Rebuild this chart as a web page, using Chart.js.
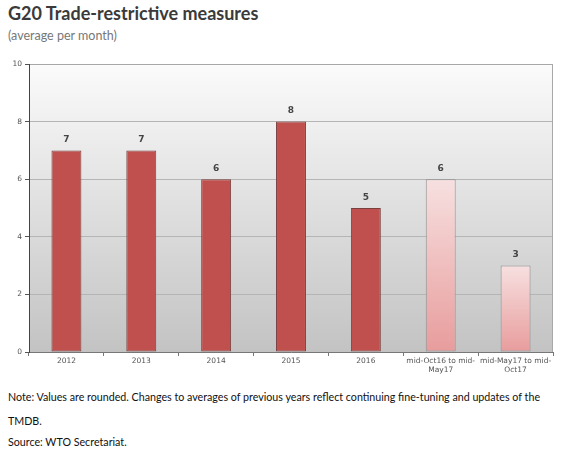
<!DOCTYPE html>
<html>
<head>
<meta charset="utf-8">
<script src="https://cdn.jsdelivr.net/npm/chart.js@4"></script>
<style>
  html, body { margin: 0; padding: 0; background: #fff; width: 568px; height: 450px; overflow: hidden; }
  #title { position: absolute; left: 8px; top: 2px; font-family: Lato, "Open Sans", sans-serif; font-size: 18px; font-weight: 700; color: #3a3a3a; white-space: nowrap; }
  #subtitle { position: absolute; left: 8px; top: 28px; font-family: Lato, "Open Sans", sans-serif; font-size: 12.5px; font-weight: 400; color: #777; }
  #wrap { position: absolute; left: 0; top: 50px; width: 568px; height: 330px; }
  .note { position: absolute; left: 8px; font-family: Lato, "Open Sans", sans-serif; font-size: 10.7px; color: #111; white-space: nowrap; }
</style>
</head>
<body>
<div id="title">G20 Trade-restrictive measures</div>
<div id="subtitle">(average per month)</div>
<div id="wrap"><canvas id="c" width="568" height="330"></canvas></div>
<div class="note" style="top:390px">Note: Values are rounded. Changes to averages of previous years reflect continuing fine-tuning and updates of the</div>
<div class="note" style="top:414px">TMDB.</div>
<div class="note" style="top:435px">Source: WTO Secretariat.</div>
<script>
const categories = ["2012", "2013", "2014", "2015", "2016", ["mid-Oct16 to mid-", "May17"], ["mid-May17 to mid-", "Oct17"]];
const measures = [7, 7, 6, 8, 5, 6, 3];
const highlighted = [false, false, false, false, false, true, true];
const yTicks = [0, 2, 4, 6, 8, 10];

const bgPlugin = {
  id: 'bg',
  beforeDraw(chart) {
    const {ctx, chartArea: a} = chart;
    const g = ctx.createLinearGradient(0, a.top, 0, a.bottom);
    g.addColorStop(0, '#fbfbfb');
    g.addColorStop(1, '#c3c3c3');
    ctx.save();
    ctx.fillStyle = g;
    ctx.fillRect(a.left, a.top, a.right - a.left, a.bottom - a.top);
    ctx.restore();
  },
  afterDraw(chart) {
    const {ctx, chartArea: a} = chart;
    ctx.save();
    ctx.strokeStyle = '#a8a8a8';
    ctx.lineWidth = 1;
    ctx.beginPath();
    ctx.moveTo(a.left, a.top + 0.5); ctx.lineTo(a.right, a.top + 0.5);
    ctx.moveTo(a.right - 0.5, a.top); ctx.lineTo(a.right - 0.5, a.bottom);
    ctx.stroke();
    ctx.strokeStyle = '#444';
    ctx.beginPath();
    ctx.moveTo(a.left + 0.5, a.top); ctx.lineTo(a.left + 0.5, a.bottom);
    ctx.stroke();
    ctx.restore();
  },
  afterDatasetsDraw(chart) {
    const {ctx} = chart;
    const meta = chart.getDatasetMeta(0);
    ctx.save();
    ctx.font = 'bold 9px "DejaVu Sans", sans-serif';
    ctx.fillStyle = '#444';
    ctx.textAlign = 'center';
    ctx.textBaseline = 'bottom';
    meta.data.forEach((bar, i) => {
      ctx.fillText(String(measures[i]), bar.x, bar.y - 6);
    });
    ctx.restore();
  }
};

function barFill(context) {
  const i = context.dataIndex;
  if (!highlighted[i]) return '#c0504d';
  const chart = context.chart;
  const ys = chart.scales.y;
  if (!ys || !chart.chartArea) return '#f0c0c0';
  const top = ys.getPixelForValue(measures[i]);
  const bottom = ys.getPixelForValue(0);
  const g = chart.ctx.createLinearGradient(0, top, 0, bottom);
  g.addColorStop(0, '#f7e0e0');
  g.addColorStop(1, '#e89c9c');
  return g;
}

new Chart(document.getElementById('c'), {
  type: 'bar',
  data: {
    labels: categories,
    datasets: [{
      data: measures,
      backgroundColor: barFill,
      borderColor: ctx => highlighted[ctx.dataIndex] ? '#8f8f8f' : '#7a4040',
      borderWidth: 1,
      borderSkipped: false,
      barPercentage: 0.4,
      categoryPercentage: 1.0
    }]
  },
  options: {
    responsive: false,
    animation: false,
    devicePixelRatio: 1,
    layout: { padding: { top: 14, right: 15, left: 0, bottom: 0 } },
    plugins: { legend: { display: false }, tooltip: { enabled: false } },
    scales: {
      x: {
        grid: { display: true, drawOnChartArea: false, offset: true, tickLength: 4, color: '#777' },
        border: { color: '#777' },
        ticks: { color: '#555', font: { family: '"DejaVu Sans", sans-serif', size: 7.5 }, maxRotation: 0, autoSkip: false, padding: 1 },
        afterFit(s) { s.height = 28; }
      },
      y: {
        min: 0, max: 10,
        afterBuildTicks(s) { s.ticks = yTicks.map(v => ({ value: v })); },
        grid: { color: '#b5b5b5', tickLength: 4, tickColor: '#555' },
        border: { color: '#444' },
        ticks: { color: '#555', font: { family: '"DejaVu Sans", sans-serif', size: 7.5 }, padding: 3 },
        afterFit(s) { s.width = 29; }
      }
    }
  },
  plugins: [bgPlugin]
});
</script>
</body>
</html>
